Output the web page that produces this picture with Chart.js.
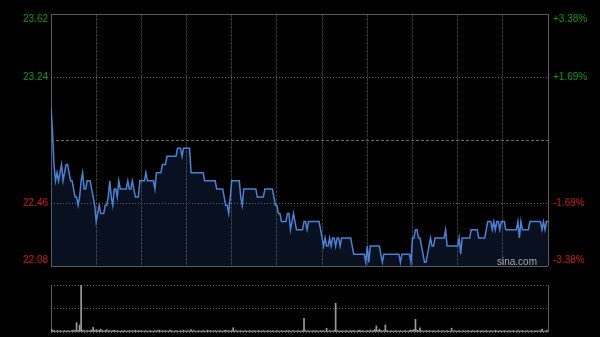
<!DOCTYPE html>
<html>
<head>
<meta charset="utf-8">
<script src="https://cdn.jsdelivr.net/npm/chart.js@4"></script>
<style>
  html, body { margin: 0; padding: 0; background: #000; }
  #wrap { position: relative; width: 600px; height: 337px; background: #000; overflow: hidden; }
  #priceChart { position: absolute; left: 0; top: 0; }
  #volChart { position: absolute; left: 0; top: 280px; }
</style>
</head>
<body>
<div id="wrap">
  <canvas id="priceChart" width="600" height="280"></canvas>
  <canvas id="volChart" width="600" height="57"></canvas>
</div>
<script>
// 昨收 + 涨跌幅 grid
const prevClose = 22.85;
const gridPct = [-0.0338, -0.0169, 0, 0.0169, 0.0338];
const leftLabels = ['22.08', '22.46', '', '23.24', '23.62'];
const rightLabels = ['-3.38%', '-1.69%', '', '+1.69%', '+3.38%'];
const gridMinutes = [0, 30, 60, 90, 120, 150, 180, 210, 240, 270, 300, 330];

// one value per minute, 09:30-12:00 + 13:00-16:00
const prices = [
  23.05, 22.90, 22.70, 22.60, 22.65, 22.60, 22.65, 22.70, 22.60, 22.65,
  22.70, 22.70, 22.65, 22.60, 22.60, 22.55, 22.50, 22.50, 22.45, 22.50,
  22.60, 22.65, 22.55, 22.55, 22.60, 22.60, 22.60, 22.55, 22.50, 22.45,
  22.35, 22.40, 22.45, 22.40, 22.40, 22.40, 22.45, 22.45, 22.50, 22.60,
  22.50, 22.45, 22.55, 22.55, 22.50, 22.60, 22.55, 22.55, 22.55, 22.55,
  22.55, 22.60, 22.55, 22.55, 22.60, 22.55, 22.50, 22.50, 22.50, 22.60,
  22.60, 22.60, 22.60, 22.65, 22.60, 22.60, 22.60, 22.60, 22.60, 22.55,
  22.65, 22.65, 22.65, 22.65, 22.70, 22.70, 22.70, 22.75, 22.75, 22.75,
  22.75, 22.75, 22.75, 22.75, 22.80, 22.80, 22.80, 22.75, 22.80, 22.80,
  22.80, 22.80, 22.80, 22.65, 22.65, 22.65, 22.65, 22.65, 22.65, 22.65,
  22.65, 22.65, 22.60, 22.60, 22.60, 22.60, 22.60, 22.60, 22.60, 22.60,
  22.55, 22.55, 22.55, 22.55, 22.55, 22.50, 22.45, 22.45, 22.40, 22.50,
  22.60, 22.60, 22.60, 22.60, 22.60, 22.60, 22.50, 22.45, 22.55, 22.55,
  22.55, 22.55, 22.55, 22.55, 22.55, 22.55, 22.55, 22.50, 22.50, 22.50,
  22.50, 22.50, 22.55, 22.55, 22.55, 22.55, 22.55, 22.55, 22.50, 22.45,
  22.45, 22.40, 22.40, 22.35, 22.35, 22.35, 22.35, 22.40, 22.40, 22.30,
  22.35, 22.40, 22.35, 22.30, 22.30, 22.30, 22.30, 22.30, 22.35, 22.35,
  22.30, 22.35, 22.35, 22.35, 22.35, 22.35, 22.35, 22.35, 22.35, 22.30,
  22.25, 22.20, 22.25, 22.20, 22.20, 22.25, 22.20, 22.25, 22.25, 22.20,
  22.25, 22.25, 22.20, 22.25, 22.25, 22.25, 22.25, 22.25, 22.25, 22.25,
  22.20, 22.15, 22.15, 22.15, 22.15, 22.15, 22.15, 22.15, 22.15, 22.10,
  22.20, 22.10, 22.20, 22.20, 22.20, 22.20, 22.20, 22.20, 22.20, 22.15,
  22.10, 22.15, 22.15, 22.15, 22.15, 22.15, 22.15, 22.15, 22.15, 22.15,
  22.15, 22.15, 22.10, 22.15, 22.15, 22.15, 22.15, 22.15, 22.15, 22.10,
  22.25, 22.25, 22.30, 22.30, 22.25, 22.25, 22.20, 22.15, 22.10, 22.10,
  22.15, 22.20, 22.25, 22.20, 22.20, 22.25, 22.25, 22.25, 22.25, 22.25,
  22.25, 22.25, 22.30, 22.20, 22.20, 22.20, 22.20, 22.20, 22.20, 22.20,
  22.20, 22.25, 22.15, 22.25, 22.25, 22.25, 22.25, 22.25, 22.25, 22.30,
  22.30, 22.30, 22.30, 22.30, 22.25, 22.25, 22.25, 22.25, 22.25, 22.30,
  22.35, 22.35, 22.35, 22.30, 22.35, 22.30, 22.35, 22.35, 22.30, 22.35,
  22.35, 22.35, 22.30, 22.30, 22.30, 22.30, 22.30, 22.30, 22.30, 22.30,
  22.35, 22.25, 22.35, 22.30, 22.30, 22.30, 22.30, 22.30, 22.35, 22.35,
  22.35, 22.35, 22.35, 22.35, 22.35, 22.35, 22.30, 22.35, 22.30, 22.35,
  22.35
];

// 成交量 (relative, top of panel = 100)
const volumes = [
  6, 4, 3, 2, 3, 2, 3, 2, 2, 3,
  2, 3, 2, 2, 3, 4, 3, 20, 3, 15,
  100, 4, 3, 2, 3, 2, 3, 4, 10, 3,
  5, 3, 4, 6, 3, 2, 3, 5, 2, 3,
  2, 3, 4, 2, 3, 2, 2, 3, 2, 3,
  2, 2, 3, 2, 3, 2, 4, 2, 3, 2,
  3, 2, 2, 3, 2, 2, 3, 2, 2, 3,
  2, 3, 4, 2, 3, 2, 3, 2, 2, 4,
  3, 2, 2, 3, 2, 2, 3, 2, 4, 2,
  2, 3, 2, 5, 2, 3, 2, 2, 3, 2,
  2, 3, 2, 2, 4, 2, 3, 2, 2, 3,
  2, 2, 3, 2, 2, 3, 4, 2, 3, 2,
  3, 9, 2, 3, 2, 2, 3, 2, 2, 3,
  2, 2, 3, 2, 2, 3, 2, 2, 3, 2,
  2, 3, 2, 2, 3, 2, 2, 3, 2, 2,
  3, 2, 2, 3, 2, 2, 3, 2, 3, 2,
  2, 3, 2, 2, 3, 2, 2, 3, 29, 3,
  2, 3, 2, 2, 3, 2, 3, 2, 2, 3,
  2, 3, 2, 8, 2, 3, 2, 2, 3, 61,
  3, 2, 2, 3, 2, 2, 3, 2, 2, 3,
  2, 3, 2, 2, 3, 4, 2, 3, 2, 2,
  3, 2, 4, 2, 3, 5, 13, 3, 6, 3,
  2, 3, 15, 3, 2, 2, 3, 2, 2, 3,
  2, 2, 3, 2, 2, 3, 2, 2, 3, 4,
  3, 5, 27, 4, 3, 9, 3, 2, 2, 3,
  2, 3, 2, 2, 3, 2, 2, 3, 2, 2,
  3, 2, 2, 3, 2, 2, 8, 2, 3, 2,
  2, 3, 2, 2, 3, 2, 2, 3, 2, 2,
  3, 2, 2, 3, 2, 2, 3, 2, 2, 3,
  2, 2, 3, 2, 2, 4, 2, 2, 3, 2,
  2, 3, 2, 2, 3, 2, 2, 3, 2, 2,
  3, 2, 2, 3, 2, 2, 3, 2, 2, 3,
  2, 2, 3, 2, 2, 3, 6, 2, 2, 3,
  4
];
const volTicks = [0, 50, 100];

const upColor = '#139a13';
const downColor = '#cf1b16';
const borderGray = '#5c5c5c';
const gridPrices = gridPct.map(p => prevClose * (1 + p));

// 좌우 라벨 + sina.com
const sideLabels = {
  id: 'sideLabels',
  afterDraw(chart) {
    const { ctx, chartArea, scales } = chart;
    ctx.save();
    ctx.font = '10px "Liberation Sans", Arial, sans-serif';
    ctx.textBaseline = 'middle';
    gridPrices.forEach((v, i) => {
      if (!leftLabels[i]) return;
      let y = scales.y.getPixelForValue(v);
      y = Math.min(Math.max(y, chartArea.top + 5), chartArea.bottom - 6);
      ctx.fillStyle = gridPct[i] > 0 ? upColor : downColor;
      ctx.textAlign = 'right';
      ctx.fillText(leftLabels[i], chartArea.left - 3, y);
      ctx.textAlign = 'left';
      ctx.fillText(rightLabels[i], chartArea.right + 5, y);
    });
    ctx.fillStyle = '#a8a8a8';
    ctx.textAlign = 'right';
    ctx.fillText('sina.com', chartArea.right - 11, chartArea.bottom - 4);
    ctx.restore();
  }
};

const priceChart = new Chart(document.getElementById('priceChart'), {
  type: 'line',
  data: {
    datasets: [{
      data: prices.map((p, i) => ({ x: i, y: p })),
      borderColor: '#4a82d6',
      borderWidth: 1.5,
      pointRadius: 0,
      tension: 0,
      fill: 'start',
      backgroundColor: 'rgba(50, 90, 170, 0.18)',
    }],
  },
  options: {
    responsive: false,
    animation: false,
    events: [],
    layout: { padding: { left: 51, right: 52, top: 14, bottom: 14 } },
    plugins: { legend: false, tooltip: false },
    scales: {
      x: {
        type: 'linear',
        min: 0,
        max: 330,
        afterBuildTicks: s => { s.ticks = gridMinutes.map(v => ({ value: v })); },
        afterFit: s => { s.height = 0; },
        ticks: { display: false },
        grid: {
          drawTicks: false,
          color: c => (c.index === 0 || c.index === gridMinutes.length - 1) ? borderGray : '#3c3c3c',
        },
        border: {
          display: false,
          dash: c => (c.index === 0 || c.index === gridMinutes.length - 1) ? [] : [3, 1],
        },
      },
      y: {
        min: gridPrices[0],
        max: gridPrices[4],
        afterBuildTicks: s => { s.ticks = gridPrices.map(v => ({ value: v })); },
        afterFit: s => { s.width = 0; },
        ticks: { display: false },
        grid: {
          drawTicks: false,
          color: c => (c.index === 0 || c.index === 4) ? borderGray : '#6a6a6a',
        },
        border: {
          display: false,
          dash: c => (c.index === 0 || c.index === 4) ? [] : (c.index === 2 ? [3, 2] : [1, 2]),
        },
      },
    },
  },
  plugins: [sideLabels],
});

const volChart = new Chart(document.getElementById('volChart'), {
  type: 'bar',
  data: {
    datasets: [{
      data: volumes.map((v, i) => ({ x: i, y: v })),
      backgroundColor: '#9c9c9c',
      barThickness: 1,
    }],
  },
  options: {
    responsive: false,
    animation: false,
    events: [],
    layout: { padding: { left: 51, right: 52, top: 5, bottom: 5 } },
    plugins: { legend: false, tooltip: false },
    scales: {
      x: {
        type: 'linear',
        min: 0,
        max: 330,
        offset: false,
        afterBuildTicks: s => { s.ticks = [0, 330].map(v => ({ value: v })); },
        afterFit: s => { s.height = 0; },
        ticks: { display: false },
        grid: { drawTicks: false, color: borderGray, offset: false },
        border: { display: false },
      },
      y: {
        min: 0,
        max: 100,
        afterBuildTicks: s => { s.ticks = volTicks.map(v => ({ value: v })); },
        afterFit: s => { s.width = 0; },
        ticks: { display: false },
        grid: { drawTicks: false, color: '#6a6a6a' },
        border: { display: false, dash: [1, 2] },
      },
    },
  },
});
</script>
</body>
</html>
